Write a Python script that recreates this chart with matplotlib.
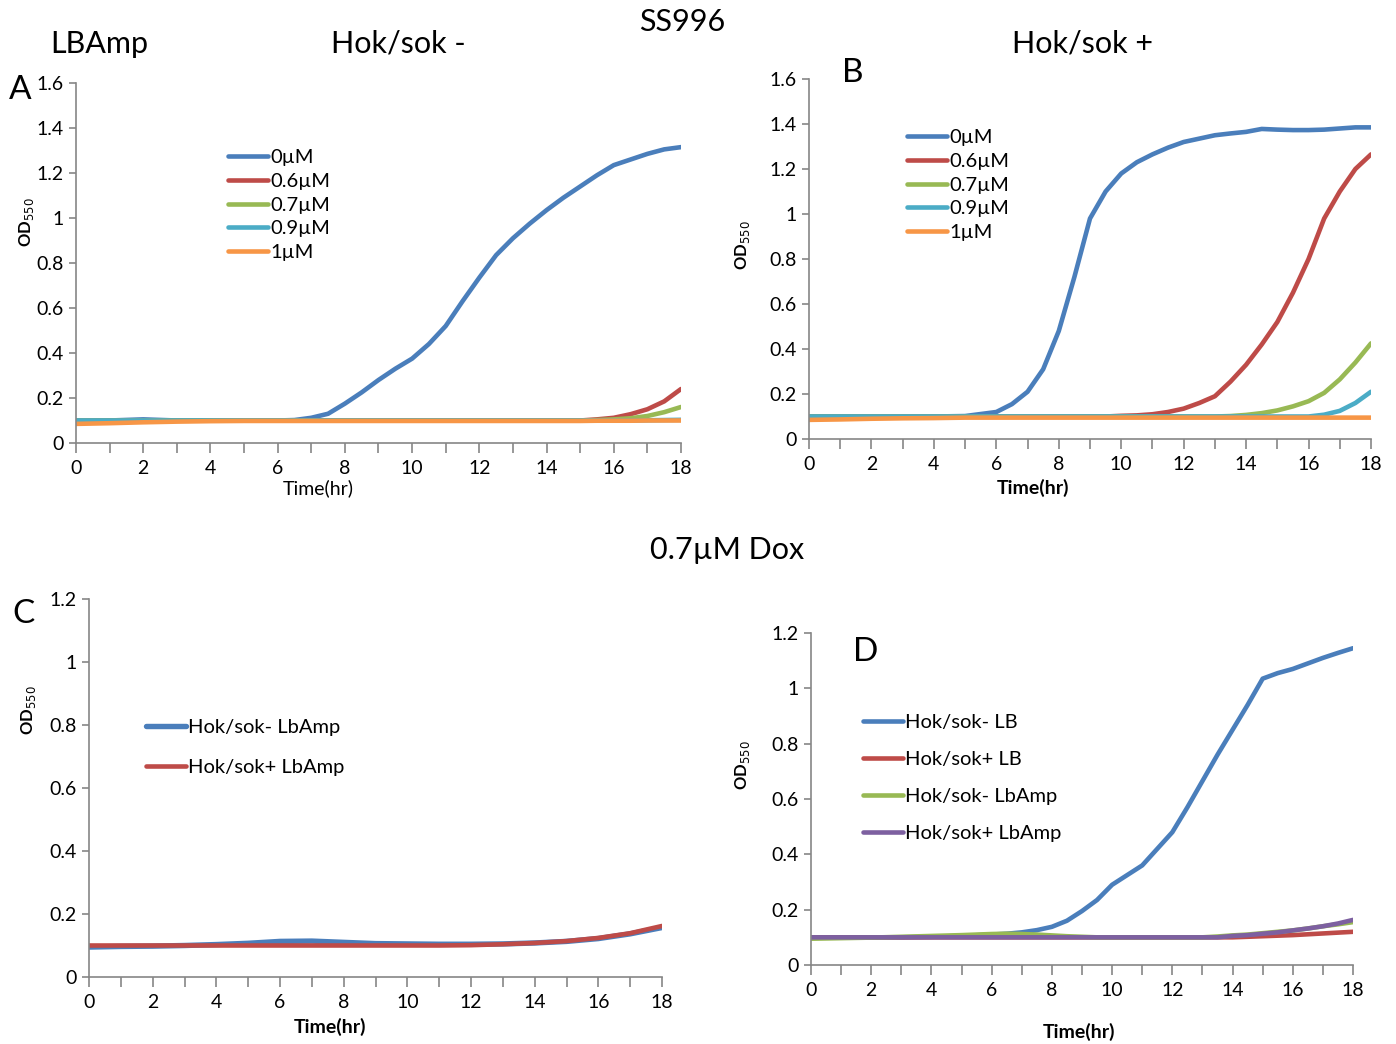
import matplotlib
matplotlib.use('Agg')
import matplotlib.pyplot as plt
from matplotlib.ticker import MultipleLocator, FuncFormatter

plt.rcParams['font.family'] = ['Lato', 'DejaVu Sans']

# Excel-2007 style colours
BLUE = '#4A7EBB'
RED = '#BE4B48'
GREEN = '#98B954'
TEAL = '#4BACC6'
ORANGE = '#F79646'
PURPLE = '#7D60A0'

# ---- data ----
t_half = [0, 1, 2, 3, 4, 5, 6, 6.5, 7, 7.5, 8, 8.5, 9, 9.5, 10, 10.5, 11, 11.5,
          12, 12.5, 13, 13.5, 14, 14.5, 15, 15.5, 16, 16.5, 17, 17.5, 18]
t_int = list(range(19))

doses = ['0µM', '0.6µM', '0.7µM', '0.9µM', '1µM']

# panel A: Hok/sok -
a_0 = [0.098, 0.100, 0.105, 0.100, 0.100, 0.100, 0.100, 0.102, 0.112, 0.130, 0.175, 0.225, 0.280, 0.330,
       0.375, 0.440, 0.520, 0.630, 0.735, 0.835, 0.910, 0.975, 1.035, 1.090, 1.140, 1.190, 1.235, 1.260,
       1.285, 1.305, 1.315]
a_06 = [0.100] * 24 + [0.100, 0.105, 0.112, 0.128, 0.150, 0.185, 0.240]
a_07 = [0.100] * 25 + [0.102, 0.105, 0.110, 0.120, 0.137, 0.160]
a_09 = [0.100] * 28 + [0.101, 0.102, 0.103]
a_1 = [0.085, 0.088, 0.092, 0.095, 0.097] + [0.098] * 20 + [0.099] * 3 + [0.100] * 3

# panel B: Hok/sok +
b_0 = [0.100, 0.100, 0.100, 0.100, 0.100, 0.102, 0.120, 0.155, 0.210, 0.310, 0.480, 0.720, 0.980, 1.100,
       1.180, 1.230, 1.265, 1.295, 1.320, 1.335, 1.350, 1.358, 1.365, 1.378, 1.375, 1.373, 1.373, 1.375,
       1.380, 1.385, 1.385]
b_06 = [0.100] * 14 + [0.103, 0.105, 0.110, 0.120, 0.135, 0.160, 0.190, 0.255, 0.330, 0.420, 0.520,
                       0.650, 0.800, 0.980, 1.100, 1.200, 1.265]
b_07 = [0.100] * 20 + [0.100, 0.102, 0.107, 0.115, 0.127, 0.145, 0.168, 0.205, 0.265, 0.340, 0.425]
b_09 = [0.100] * 26 + [0.100, 0.108, 0.125, 0.160, 0.210]
b_1 = [0.085, 0.087, 0.090, 0.092, 0.093] + [0.095] * 26

# panel C: 0.7µM Dox, LbAmp
c_minus = [0.095, 0.097, 0.098, 0.100, 0.103, 0.107, 0.113, 0.114, 0.110, 0.106, 0.105, 0.104, 0.104,
           0.105, 0.108, 0.113, 0.122, 0.137, 0.157]
c_plus = [0.100] * 12 + [0.101, 0.104, 0.108, 0.114, 0.124, 0.139, 0.162]

# panel D: 0.7µM Dox, LB vs LbAmp
d_minus_lb = [0.100, 0.100, 0.100, 0.100, 0.102, 0.105, 0.110, 0.113, 0.118, 0.126, 0.138, 0.160, 0.195,
              0.235, 0.290, 0.325, 0.360, 0.420, 0.480, 0.570, 0.665, 0.760, 0.850, 0.940, 1.035, 1.055,
              1.070, 1.090, 1.110, 1.128, 1.145]
d_plus_lb = [0.100] * 23 + [0.102, 0.104, 0.106, 0.108, 0.111, 0.114, 0.117, 0.120]
d_minus_amp = [0.095, 0.097, 0.099, 0.102, 0.105, 0.108, 0.112, 0.113, 0.112, 0.110, 0.107, 0.104, 0.102,
               0.100, 0.100, 0.100, 0.100, 0.100, 0.100, 0.100, 0.100, 0.103, 0.107, 0.110, 0.115, 0.120,
               0.125, 0.132, 0.140, 0.147, 0.155]
d_plus_amp = [0.100] * 22 + [0.105, 0.108, 0.113, 0.118, 0.125, 0.132, 0.140, 0.150, 0.163]


def fmt(v, pos):
    s = ('%.1f' % v).rstrip('0').rstrip('.')
    return s


def style_axes(ax, ymax, ystep):
    for side in ['top', 'right']:
        ax.spines[side].set_visible(False)
    for side in ['left', 'bottom']:
        ax.spines[side].set_color('#868686')
        ax.spines[side].set_linewidth(1.2)
    ax.set_xlim(0, 18)
    ax.set_ylim(0, ymax)
    ax.xaxis.set_major_locator(MultipleLocator(2))
    ax.xaxis.set_minor_locator(MultipleLocator(1))
    ax.yaxis.set_major_locator(MultipleLocator(ystep))
    ax.yaxis.set_major_formatter(FuncFormatter(fmt))
    ax.tick_params(axis='both', which='both', direction='out', color='#868686',
                   labelsize=14, width=1.2)
    ax.tick_params(axis='x', which='both', length=7, pad=5)
    ax.tick_params(axis='y', which='major', length=5, pad=4)
    for sp in ax.spines.values():
        sp.set_clip_on(False)


fig = plt.figure(figsize=(13.96, 10.44), dpi=100)
W, H = 1396.0, 1044.0


def add_ax(x0, x1, y_top, y_bot):
    return fig.add_axes([x0 / W, 1 - y_bot / H, (x1 - x0) / W, (y_bot - y_top) / H])


def fx(px):
    return px / W


def fy(py):
    return 1 - py / H


lw = 3.3
leg_kw = dict(bbox_transform=fig.transFigure, loc='upper left', frameon=False, fontsize=14.5,
              handlelength=2.0, handletextpad=0.1, borderpad=0, borderaxespad=0)

# Panel A
axA = add_ax(76, 681, 83, 443)
for vals, c, lab in zip([a_0, a_06, a_07, a_09, a_1], [BLUE, RED, GREEN, TEAL, ORANGE], doses):
    axA.plot(t_half, vals, color=c, lw=lw, label=lab, solid_capstyle='round')
style_axes(axA, 1.6, 0.2)
axA.legend(bbox_to_anchor=(fx(228), fy(149)), labelspacing=0.33, **leg_kw)

# Panel B
axB = add_ax(809, 1371, 79, 439)
for vals, c, lab in zip([b_0, b_06, b_07, b_09, b_1], [BLUE, RED, GREEN, TEAL, ORANGE], doses):
    axB.plot(t_half, vals, color=c, lw=lw, label=lab, solid_capstyle='round')
style_axes(axB, 1.6, 0.2)
axB.legend(bbox_to_anchor=(fx(907), fy(129)), labelspacing=0.33, **leg_kw)

# Panel C
axC = add_ax(89, 662, 599, 977)
axC.plot(t_int, c_minus, color=BLUE, lw=lw + 0.6, label='Hok/sok- LbAmp', solid_capstyle='round')
axC.plot(t_int, c_plus, color=RED, lw=lw, label='Hok/sok+ LbAmp', solid_capstyle='round')
style_axes(axC, 1.2, 0.2)
axC.legend(bbox_to_anchor=(fx(146), fy(719)), labelspacing=1.12, **leg_kw)

# Panel D
axD = add_ax(811, 1353, 633, 965)
for vals, c, lab in zip([d_minus_lb, d_plus_lb, d_minus_amp, d_plus_amp], [BLUE, RED, GREEN, PURPLE],
                        ['Hok/sok- LB', 'Hok/sok+ LB', 'Hok/sok- LbAmp', 'Hok/sok+ LbAmp']):
    axD.plot(t_half, vals, color=c, lw=lw, label=lab, solid_capstyle='round')
style_axes(axD, 1.2, 0.2)
axD.legend(bbox_to_anchor=(fx(863), fy(714)), labelspacing=0.98, **leg_kw)

# axis labels
ylab = 'OD$_{550}$'
for x, y in [(27, 222), (743, 245), (28, 710), (743, 765)]:
    fig.text(fx(x), fy(y), ylab, rotation=90, ha='center', va='center', fontsize=12, fontweight='bold')
fig.text(fx(318), fy(488), 'Time(hr)', ha='center', va='center', fontsize=14)
for x, y in [(1033, 488), (330, 1027), (1079, 1032)]:
    fig.text(fx(x), fy(y), 'Time(hr)', ha='center', va='center', fontsize=14, fontweight='bold')

# titles and panel letters
big = 22
fig.text(fx(50), fy(44), 'LBAmp', ha='left', va='center', fontsize=big)
fig.text(fx(398), fy(43), 'Hok/sok -', ha='center', va='center', fontsize=big)
fig.text(fx(682), fy(22), 'SS996', ha='center', va='center', fontsize=big)
fig.text(fx(1083), fy(43), 'Hok/sok +', ha='center', va='center', fontsize=big)
fig.text(fx(727), fy(550), '0.7µM Dox', ha='center', va='center', fontsize=big)
fig.text(fx(20), fy(90), 'A', ha='center', va='center', fontsize=big + 2)
fig.text(fx(853), fy(73), 'B', ha='center', va='center', fontsize=big + 2)
fig.text(fx(24), fy(614), 'C', ha='center', va='center', fontsize=big + 2)
fig.text(fx(866), fy(652), 'D', ha='center', va='center', fontsize=big + 2)

fig.savefig('out.png', dpi=100)
